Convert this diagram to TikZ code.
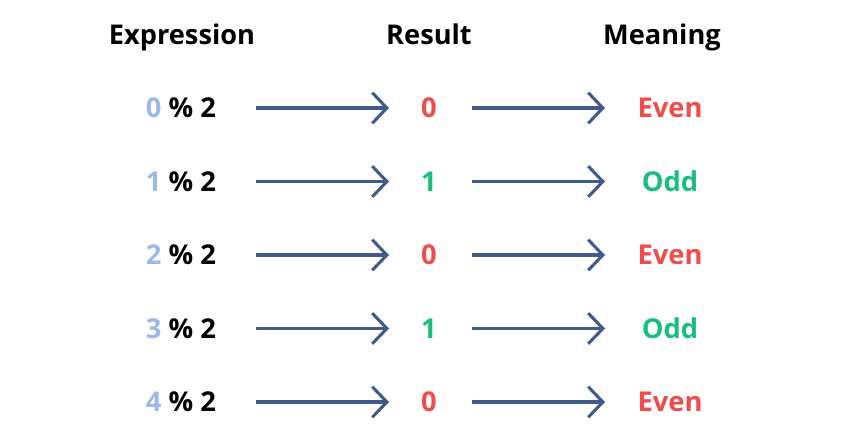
\documentclass[tikz,border=0pt]{standalone}
\usepackage{fontspec}
\setmainfont{Open Sans}
\usetikzlibrary{arrows.meta, positioning}
\definecolor{ArrowBlue}{RGB}{66, 90, 138}
\definecolor{DigitBlue}{RGB}{157, 184, 232}
\definecolor{EvenRed}{RGB}{242, 75, 75}
\definecolor{OddGreen}{RGB}{24, 190, 126}
\tikzset{
    header/.style={
        font=\fontsize{20.4}{24}\selectfont\bfseries, anchor=base
    },
    cell/.style={
        font=\fontsize{20.5}{24}\selectfont\bfseries, inner sep=0pt,
        text height=14.6pt, text depth=0pt
    },
    maparrow/.style={
        line width=2.3pt, color=ArrowBlue,
        -{Straight Barb[length=11pt, width=23pt, line width=2.3pt]}
    }
}

\begin{document}
\begin{tikzpicture}[x=0.75pt, y=-0.75pt]

    \useasboundingbox (0,0) rectangle (847,437);

    % column titles
    \node[header] (hexpr) at (182,44) {Expression};
    \node[header] (hres)  at (429,44) {Result};
    \node[header] (hmean) at (662,44) {Meaning};

    % one row for each number
    \foreach \n/\r/\word/\col [count=\i from 0] in
        {0/0/Even/EvenRed, 1/1/Odd/OddGreen, 2/0/Even/EvenRed,
         3/1/Odd/OddGreen, 4/0/Even/EvenRed} {
        \node[cell] (e\i) at (181, 108+73.5*\i) {\textcolor{DigitBlue}{\n} \% 2};
        \node[cell, text=\col] (r\i) at (429, 108+73.5*\i) {\r};
        \node[cell, text=\col] (m\i) at (670, 108+73.5*\i) {\word};
        \draw[maparrow, shorten <=56.25pt, shorten >=30pt] (e\i.center) -- (r\i.center);
        \draw[maparrow, shorten <=32.25pt, shorten >=48.75pt] (r\i.center) -- (m\i.center);
    }

\end{tikzpicture}
\end{document}
